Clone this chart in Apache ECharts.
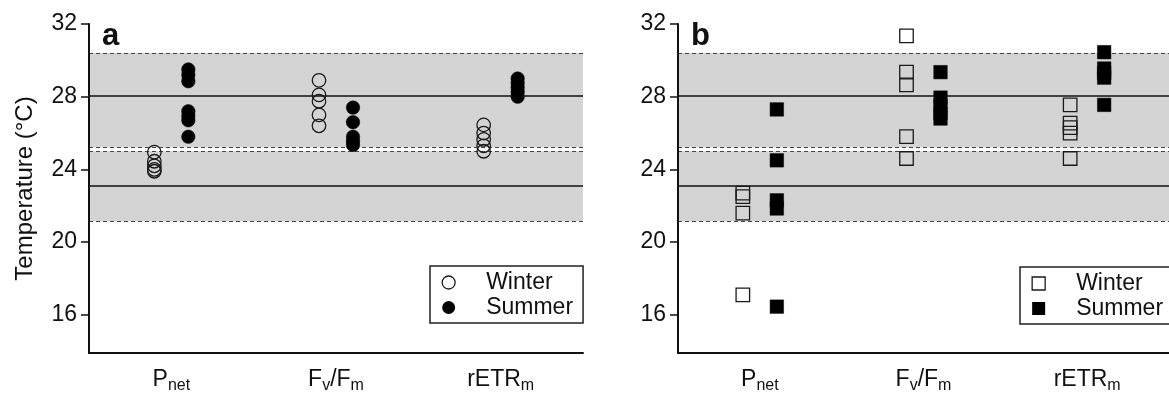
<!DOCTYPE html>
<html>
<head>
<meta charset="utf-8">
<script src="https://cdn.jsdelivr.net/npm/echarts@6/dist/echarts.min.js"></script>
<style>
  html, body { margin: 0; padding: 0; background: #fff; }
  #chart { width: 1169px; height: 398px; }
</style>
</head>
<body>
<div id="chart"></div>
<script>
// Measured parameters on the x axis
const categories = ['Pnet', 'FvFm', 'rETRm'];
// Temperature ticks (°C)
const yTicks = [16, 20, 24, 28, 32];

// Reference temperatures: means (solid) and mean ± SD limits (dashed)
const meanLines = [28.05, 23.1];
const sdLines = [30.4, 25.2, 25.0, 21.15];
const sdBands = [[25.2, 30.4], [21.15, 25.0]];

// Panel a – optimum temperatures (circles)
const winterA_Pnet = [24.95, 24.45, 24.2, 24.0, 23.9];
const summerA_Pnet = [29.5, 29.2, 28.85, 27.2, 26.95, 26.7, 25.8];
const winterA_FvFm = [28.9, 28.1, 27.75, 27.0, 26.4];
const summerA_FvFm = [27.4, 26.6, 25.8, 25.55, 25.35];
const winterA_rETRm = [26.45, 26.0, 25.65, 25.3, 25.0];
const summerA_rETRm = [29.0, 28.75, 28.5, 28.25, 28.0];

// Panel b – upper critical temperatures (squares)
const winterB_Pnet = [22.7, 22.5, 21.6, 17.1];
const summerB_Pnet = [27.3, 24.5, 22.3, 21.85, 16.45];
const winterB_FvFm = [31.35, 29.35, 28.65, 25.8, 24.6];
const summerB_FvFm = [29.35, 27.95, 27.5, 27.1, 26.8];
const winterB_rETRm = [27.55, 26.55, 26.3, 26.0, 24.6];
const summerB_rETRm = [30.45, 29.55, 29.3, 29.05, 27.55];

const FONT = '"Liberation Sans", Arial, Helvetica, sans-serif';
const INK = '#111';

function points(perCategory) {
  const out = [];
  perCategory.forEach((vals, ci) => vals.forEach(v => out.push([ci, v])));
  return out;
}

function catLabel(v) {
  if (v === 'Pnet') return '{m|P}{s|net}';
  if (v === 'FvFm') return '{m|F}{s|v}{m|/F}{s|m}';
  return '{m|rETR}{s|m}';
}

function xAxisFor(gi) {
  return {
    type: 'category', gridIndex: gi, data: categories, z: 10,
    axisLine: { lineStyle: { color: INK, width: 2 } },
    axisTick: { alignWithLabel: true, length: 9, lineStyle: { color: INK, width: 1.5 } },
    axisLabel: {
      margin: 12, formatter: catLabel,
      rich: {
        m: { fontSize: 23, fontFamily: FONT, color: INK },
        s: { fontSize: 16, fontFamily: FONT, color: INK, padding: [13, 0, 0, 0] }
      }
    },
    splitLine: { show: false }
  };
}

function yAxisFor(gi, name) {
  return {
    type: 'value', gridIndex: gi, min: 13.9, max: 32, z: 10,
    name: name, nameLocation: 'middle', nameGap: 52,
    nameTextStyle: { fontSize: 24, fontFamily: FONT, color: INK },
    axisLine: { show: true, lineStyle: { color: INK, width: 2 } },
    axisTick: { show: true, length: 8, customValues: yTicks, lineStyle: { color: INK, width: 1.5 } },
    axisLabel: { margin: 12, customValues: yTicks, fontSize: 23, fontFamily: FONT, color: INK },
    splitLine: { show: false }
  };
}

// Shaded SD bands with the mean and SD reference lines
function referenceLayer(gi) {
  return {
    type: 'line', xAxisIndex: gi, yAxisIndex: gi, data: [], silent: true, z: 1,
    markArea: {
      silent: true,
      itemStyle: { color: '#d4d4d4' },
      data: sdBands.map(b => [{ yAxis: b[1] }, { yAxis: b[0] }])
    },
    markLine: {
      silent: true, symbol: 'none', label: { show: false }, animation: false,
      data: meanLines.map(v => ({ yAxis: v, lineStyle: { type: 'solid', color: '#111', width: 1.6 } }))
        .concat(sdLines.map(v => ({ yAxis: v, lineStyle: { type: [4, 3], color: '#444', width: 1.2 } })))
    }
  };
}

function scatter(gi, name, data, symbol, filled, dx) {
  return {
    type: 'scatter', name: name, xAxisIndex: gi, yAxisIndex: gi, z: 5,
    data: data, symbol: symbol, symbolSize: 13.5, symbolOffset: [dx, 0],
    itemStyle: filled
      ? { color: '#000', borderColor: '#000', borderWidth: 0.5, opacity: 1 }
      : { color: 'rgba(0,0,0,0)', borderColor: '#1a1a1a', borderWidth: 1.3, opacity: 1 },
    emphasis: { disabled: true }
  };
}

function legendFor(left, top, icon) {
  return {
    left: left, top: top, orient: 'vertical',
    itemWidth: 13, itemHeight: 13, itemGap: 2,
    padding: [5, 10, 4, 11.5],
    borderColor: '#222', borderWidth: 1.5, backgroundColor: '#fff',
    textStyle: { fontSize: 23, fontFamily: FONT, color: INK, padding: [0, 0, 0, 26] },
    data: [
      { name: 'Winter', icon: icon, itemStyle: { color: 'rgba(0,0,0,0)', borderColor: '#1a1a1a', borderWidth: 1.3 } },
      { name: 'Summer', icon: icon, itemStyle: { color: '#000', borderColor: '#000', borderWidth: 0 } }
    ],
    selectedMode: false
  };
}

const chart = echarts.init(document.getElementById('chart'), null, { renderer: 'canvas' });
chart.setOption({
  animation: false,
  backgroundColor: '#fff',
  title: [
    { text: 'a', left: 102, top: 21, padding: 0, textStyle: { fontSize: 31, fontWeight: 'bold', fontFamily: FONT, color: INK } },
    { text: 'b', left: 691, top: 21, padding: 0, textStyle: { fontSize: 31, fontWeight: 'bold', fontFamily: FONT, color: INK } }
  ],
  grid: [
    { left: 89, top: 24, width: 494, height: 329 },
    { left: 678, top: 24, width: 494, height: 329 }
  ],
  xAxis: [xAxisFor(0), xAxisFor(1)],
  yAxis: [yAxisFor(0, 'Temperature (°C)'), yAxisFor(1, '')],
  legend: [legendFor(430, 266, 'circle'), legendFor(1020, 267, 'rect')],
  series: [
    referenceLayer(0),
    referenceLayer(1),
    scatter(0, 'Winter', points([winterA_Pnet, winterA_FvFm, winterA_rETRm]), 'circle', false, -17),
    scatter(0, 'Summer', points([summerA_Pnet, summerA_FvFm, summerA_rETRm]), 'circle', true, 17),
    scatter(1, 'Winter', points([winterB_Pnet, winterB_FvFm, winterB_rETRm]), 'rect', false, -17),
    scatter(1, 'Summer', points([summerB_Pnet, summerB_FvFm, summerB_rETRm]), 'rect', true, 17)
  ]
});
</script>
</body>
</html>
